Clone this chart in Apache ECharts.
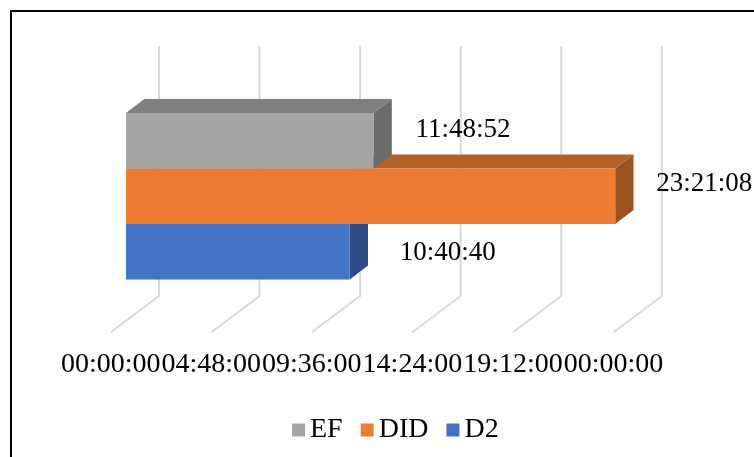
<!DOCTYPE html>
<html>
<head>
<meta charset="utf-8">
<script src="https://cdn.jsdelivr.net/npm/echarts@6/dist/echarts.min.js"></script>
<style>
  html, body { margin: 0; padding: 0; background: #fff; }
  #chart { width: 754px; height: 457px; }
</style>
</head>
<body>
<div id="chart"></div>
<script>
// Durations per series (hh:mm:ss)
const seriesNames = ['EF', 'DID', 'D2'];
const durations = ['11:48:52', '23:21:08', '10:40:40'];

// Value axis ticks (hours) and their printed labels (24:00 wraps to 00:00:00)
const hourTicks = [0, 4.8, 9.6, 14.4, 19.2, 24];
const tickLabels = ['00:00:00', '04:48:00', '09:36:00', '14:24:00', '19:12:00', '00:00:00'];

// Face colours for each box: front, top, side
const faceColors = {
  EF:  { front: '#a5a5a5', top: '#7f7f7f', side: '#6b6b6b' },
  DID: { front: '#ed7d31', top: '#b56026', side: '#9a5220' },
  D2:  { front: '#4472c4', top: '#355a9c', side: '#2e4c84' }
};

// Label nudges relative to the end of each box front face
const labelNudge = { EF: [42, -10.5], DID: [41, -12], D2: [50, 1] };

// Oblique projection offsets (pixels)
const FRONT = [15.3, -11.5];   // floor front plane -> box front face
const DEPTH = [18.3, -14];     // box front face -> box back face
const WALL = [48.3, -36.3];    // floor front edge -> back wall
const FLOOR_DROP = 41.3;       // floor front edge below the plot band
const WALL_HEIGHT = 250;

const FONT = 'Liberation Serif';

function toHours(s) {
  const [h, m, sec] = s.split(':').map(Number);
  return h + m / 60 + sec / 3600;
}

const chart = echarts.init(document.getElementById('chart'), null, { renderer: 'canvas' });

// Back wall and floor gridlines, one per tick
const wallSeries = {
  type: 'custom',
  silent: true,
  clip: false,
  z: 1,
  data: hourTicks.map(t => [t, 0]),
  renderItem(params, api) {
    const cs = params.coordSys;
    const p = api.coord([api.value(0), 0]);
    const fy = cs.y + cs.height + FLOOR_DROP;
    const bx = p[0] + WALL[0];
    const by = fy + WALL[1];
    return {
      type: 'polyline',
      shape: { points: [[p[0], fy], [bx, by], [bx, by - WALL_HEIGHT]] },
      style: { stroke: '#d9d9d9', lineWidth: 2, fill: null }
    };
  }
};

function boxSeries(name, slot) {
  const c = faceColors[name];
  const nudge = labelNudge[name];
  const hours = toHours(durations[slot]);
  return {
    type: 'custom',
    name: name,
    clip: false,
    z: 2,
    itemStyle: { color: c.front },
    data: [[hours, 0, durations[slot]]],
    renderItem(params, api) {
      const start = api.coord([0, 0]);
      const end = api.coord([api.value(0), 0]);
      const band = api.size([0, 1])[1];
      const h = band / 3;
      const top = start[1] - band / 2 + slot * h + FRONT[1];
      const x0 = start[0] + FRONT[0];
      const x1 = end[0] + FRONT[0];
      const dx = DEPTH[0], dy = DEPTH[1];
      return {
        type: 'group',
        children: [
          {
            type: 'polygon',
            shape: { points: [[x0, top], [x0 + dx, top + dy], [x1 + dx, top + dy], [x1, top]] },
            style: { fill: c.top }
          },
          {
            type: 'polygon',
            shape: { points: [[x1, top], [x1 + dx, top + dy], [x1 + dx, top + h + dy], [x1, top + h]] },
            style: { fill: c.side }
          },
          {
            type: 'rect',
            shape: { x: x0, y: top, width: x1 - x0, height: h },
            style: { fill: c.front }
          },
          {
            type: 'text',
            x: x1 + nudge[0],
            y: top + h / 2 + nudge[1],
            style: {
              text: api.value(2),
              fill: '#000',
              font: '27px "' + FONT + '"',
              textAlign: 'left',
              textVerticalAlign: 'middle'
            }
          }
        ]
      };
    }
  };
}

// Draw bottom box first so the boxes above cover its top face
const boxes = [boxSeries('D2', 2), boxSeries('DID', 1), boxSeries('EF', 0)];

chart.setOption({
  animation: false,
  backgroundColor: '#fff',
  graphic: [{
    type: 'rect',
    shape: { x: 11, y: 11, width: 800, height: 500 },
    style: { fill: null, stroke: '#000', lineWidth: 2 },
    silent: true
  }],
  grid: { left: 110.7, right: 140.5, top: 124.5, bottom: 166 },
  xAxis: {
    type: 'value',
    min: 0,
    max: 24,
    interval: 4.8,
    axisLine: { show: false },
    axisTick: { show: false },
    splitLine: { show: false },
    axisLabel: {
      margin: 60,
      color: '#000',
      fontFamily: FONT,
      fontSize: 28,
      formatter: (v, i) => tickLabels[i]
    }
  },
  yAxis: {
    type: 'category',
    data: [''],
    show: false
  },
  legend: {
    data: seriesNames,
    left: 287,
    top: 411,
    icon: 'rect',
    itemWidth: 13,
    itemHeight: 13,
    itemGap: 18,
    textStyle: { color: '#000', fontFamily: FONT, fontSize: 28 }
  },
  series: [wallSeries].concat(boxes)
});
</script>
</body>
</html>
